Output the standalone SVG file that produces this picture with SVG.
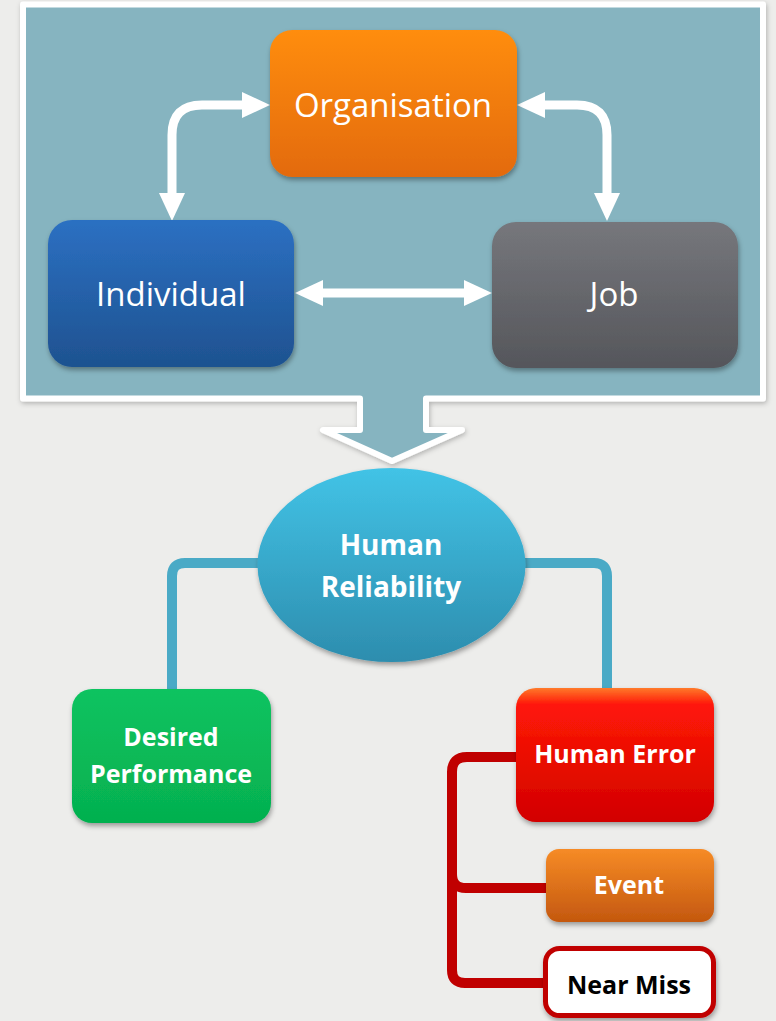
<svg xmlns="http://www.w3.org/2000/svg" width="776" height="1021" viewBox="0 0 776 1021">
<defs>
<style>
.lbl{font-family:"Open Sans","Liberation Sans",sans-serif;fill:#fff;text-anchor:middle}
.top{font-size:33px;font-weight:400}
.bold{font-size:25px;font-weight:700}
.arrow{fill:none;stroke:#fff;stroke-width:9}
</style>
<linearGradient id="gOrg" x1="0" y1="0" x2="0" y2="1"><stop offset="0" stop-color="#ff8d0d"/><stop offset="1" stop-color="#e36a0a"/></linearGradient>
<linearGradient id="gInd" x1="0" y1="0" x2="0" y2="1"><stop offset="0" stop-color="#2c70c2"/><stop offset="1" stop-color="#1e5290"/></linearGradient>
<linearGradient id="gJob" x1="0" y1="0" x2="0" y2="1"><stop offset="0" stop-color="#76777c"/><stop offset="1" stop-color="#55565b"/></linearGradient>
<linearGradient id="gHR" x1="0" y1="0" x2="0" y2="1"><stop offset="0" stop-color="#42c3e6"/><stop offset="1" stop-color="#2d8dae"/></linearGradient>
<linearGradient id="gDP" x1="0" y1="0" x2="0" y2="1"><stop offset="0" stop-color="#0cc360"/><stop offset="1" stop-color="#05b04f"/></linearGradient>
<linearGradient id="gHE" x1="0" y1="0" x2="0" y2="1"><stop offset="0" stop-color="#ff7a2a"/><stop offset="0.12" stop-color="#ff1808"/><stop offset="1" stop-color="#d20000"/></linearGradient>
<linearGradient id="gEv" x1="0" y1="0" x2="0" y2="1"><stop offset="0" stop-color="#f68b26"/><stop offset="1" stop-color="#c4580f"/></linearGradient>
<filter id="sh" x="-10%" y="-10%" width="125%" height="130%"><feDropShadow dx="1" dy="3" stdDeviation="2.5" flood-color="#000" flood-opacity="0.35"/></filter>
<filter id="shp" x="-5%" y="-5%" width="110%" height="115%"><feDropShadow dx="1" dy="2" stdDeviation="2.5" flood-color="#000" flood-opacity="0.25"/></filter>
<marker id="ah" viewBox="0 0 28 26" refX="1" refY="13" markerWidth="28" markerHeight="26" markerUnits="userSpaceOnUse" orient="auto-start-reverse"><path d="M0,0 L28,13 L0,26 z" fill="#fff"/></marker>
</defs>
<rect width="776" height="1021" fill="#ededeb"/>
<g id="panel">
<path d="M23,4.5 H763 V398.5 H426 V430 H462 L392,461 L323,430 H360 V398.5 H23 Z" fill="#86b4c0" stroke="#fff" stroke-width="6" stroke-linejoin="round" filter="url(#shp)"/>
</g>
<g id="connectors">
<path class="arrow" d="M172,194 V135 Q172,105 202,105 H243" marker-start="url(#ah)" marker-end="url(#ah)"/>
<path class="arrow" d="M544,105 H577 Q607,105 607,135 V194" marker-start="url(#ah)" marker-end="url(#ah)"/>
<path class="arrow" d="M322,293 H465" marker-start="url(#ah)" marker-end="url(#ah)"/>
<path d="M260,563 H185 Q172,563 172,576 V692" fill="none" stroke="#4aaac6" stroke-width="10"/>
<path d="M523,563 H594 Q607,563 607,576 V690" fill="none" stroke="#4aaac6" stroke-width="10"/>
<path d="M518,757 H467 Q452,757 452,772 V970 Q452,983 465,983 H546" fill="none" stroke="#c00000" stroke-width="10"/>
<path d="M452,874 Q452,888 466,888 H548" fill="none" stroke="#c00000" stroke-width="10"/>
</g>
<g id="organisation">
<rect x="270" y="30" width="247" height="147" rx="22" fill="url(#gOrg)" filter="url(#sh)"/>
<text class="lbl top" x="393" y="117">Organisation</text>
</g>
<g id="individual">
<rect x="48" y="220" width="246" height="147" rx="24" fill="url(#gInd)" filter="url(#sh)"/>
<text class="lbl top" x="171" y="306">Individual</text>
</g>
<g id="job">
<rect x="492" y="222" width="246" height="146" rx="24" fill="url(#gJob)" filter="url(#sh)"/>
<text class="lbl top" x="614" y="306">Job</text>
</g>
<g id="human-reliability">
<ellipse cx="391.5" cy="565" rx="134" ry="97" fill="url(#gHR)" filter="url(#sh)"/>
<text class="lbl" style="font-size:28px;font-weight:700" x="391" y="555">Human</text>
<text class="lbl" style="font-size:28px;font-weight:700" x="391" y="597">Reliability</text>
</g>
<g id="desired-performance">
<rect x="72" y="689" width="199" height="134" rx="20" fill="url(#gDP)" filter="url(#sh)"/>
<text class="lbl bold" x="171" y="746">Desired</text>
<text class="lbl bold" x="171" y="783">Performance</text>
</g>
<g id="human-error">
<rect x="516" y="688" width="198" height="134" rx="20" fill="url(#gHE)" filter="url(#sh)"/>
<text class="lbl bold" x="615" y="763">Human Error</text>
</g>
<g id="event">
<rect x="546" y="849" width="168" height="73" rx="13" fill="url(#gEv)" filter="url(#sh)"/>
<text class="lbl bold" x="629" y="894">Event</text>
</g>
<g id="near-miss">
<rect x="545.5" y="948.5" width="168" height="67" rx="14" fill="#fff" stroke="#c00000" stroke-width="5" filter="url(#sh)"/>
<text class="lbl bold" style="fill:#000" x="629" y="994">Near Miss</text>
</g>
</svg>
